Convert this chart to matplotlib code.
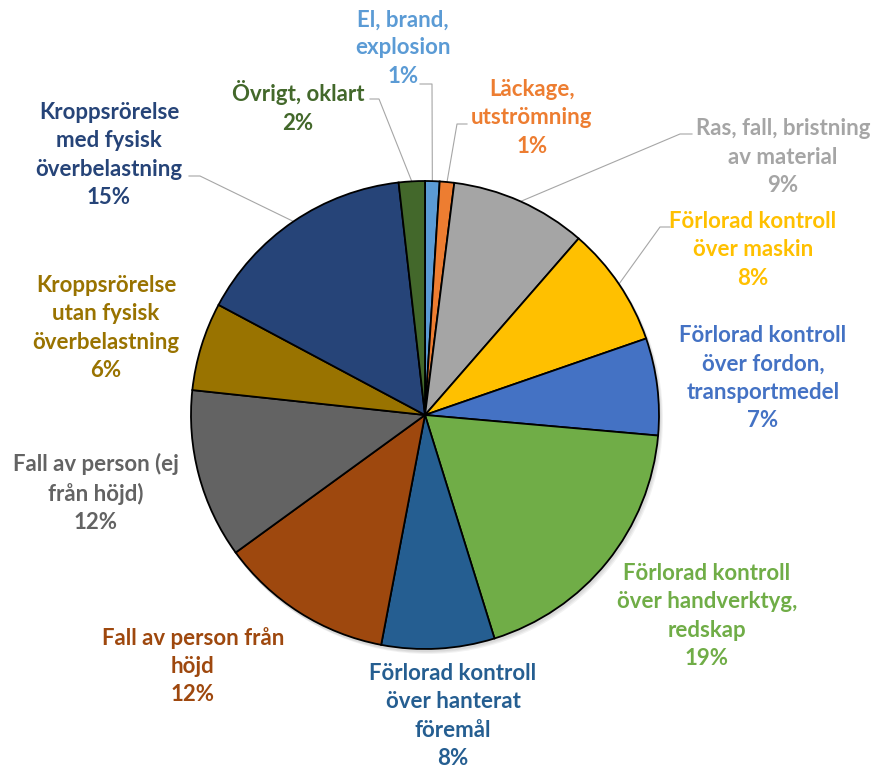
import numpy as np
import matplotlib.pyplot as plt

# andel olyckor per avvikelsetyp (%), medurs från kl 12
categories = [
    "El, brand,\nexplosion",
    "Läckage,\nutströmning",
    "Ras, fall, bristning\nav material",
    "Förlorad kontroll\növer maskin",
    "Förlorad kontroll\növer fordon,\ntransportmedel",
    "Förlorad kontroll\növer handverktyg,\nredskap",
    "Förlorad kontroll\növer hanterat\nföremål",
    "Fall av person från\nhöjd",
    "Fall av person (ej\nfrån höjd)",
    "Kroppsrörelse\nutan fysisk\növerbelastning",
    "Kroppsrörelse\nmed fysisk\növerbelastning",
    "Övrigt, oklart",
]
values = [1.0, 1.0, 9.4, 8.3, 6.7, 18.8, 7.8, 12.0, 11.7, 6.1, 15.4, 1.8]
colors = ["#5B9BD5", "#ED7D31", "#A5A5A5", "#FFC000", "#4472C4", "#70AD47",
          "#255E91", "#9E480E", "#636363", "#997300", "#264478", "#43682B"]

W, H = 875, 771
CX, CY, R = 425, 415, 234

# etikettcentrum i bildpixlar (x, y)
label_pos = [(403, 48), (532, 118), (783, 157), (753, 250), (763, 378),
             (707, 616), (453, 716), (193, 666), (96, 493), (106, 328),
             (109, 155), (298, 107)]
# hävarmar: index -> knickpunkter
leaders = {
    0: [(420, 84), (432, 84)],
    1: [(467, 124), (457, 124)],
    2: [(692, 134), (680, 134)],
    3: [(670, 227), (660, 227)],
    10: [(189, 176), (200, 176)],
    11: [(370, 99), (379, 99)],
}


def Y(y):
    return H - y


fig = plt.figure(figsize=(W / 100, H / 100), dpi=100)
ax = fig.add_axes([0, 0, 1, 1])

# svag skugga som i Excel
for k in range(3):
    ax.add_patch(plt.Circle((CX + 1 + k, Y(CY) - 2 - k), R + 1, color="black",
                            alpha=0.05, lw=0, zorder=0))

wedges, _ = ax.pie(values, colors=colors, startangle=90, counterclock=False,
                   center=(CX, Y(CY)), radius=R, frame=True,
                   wedgeprops=dict(edgecolor="black", linewidth=1.3))
ax.set_xlim(0, W)
ax.set_ylim(0, H)
ax.set_aspect("equal")
ax.axis("off")

for i, (name, v) in enumerate(zip(categories, values)):
    x, y = label_pos[i]
    ax.text(x, Y(y), f"{name}\n{round(v)}%", ha="center", va="center",
            multialignment="center", color=colors[i], fontsize=16,
            fontweight="bold", family=["Lato", "DejaVu Sans"], linespacing=1.42)

for i, pts in leaders.items():
    w = wedges[i]
    ang = np.deg2rad((w.theta1 + w.theta2) / 2)
    ex = CX + R * np.cos(ang)
    ey = Y(CY) + R * np.sin(ang)
    xs = [p[0] for p in pts] + [ex]
    ys = [Y(p[1]) for p in pts] + [ey]
    ax.plot(xs, ys, color="#A6A6A6", lw=0.8, zorder=0.5)

fig.savefig("out.png", dpi=100)
